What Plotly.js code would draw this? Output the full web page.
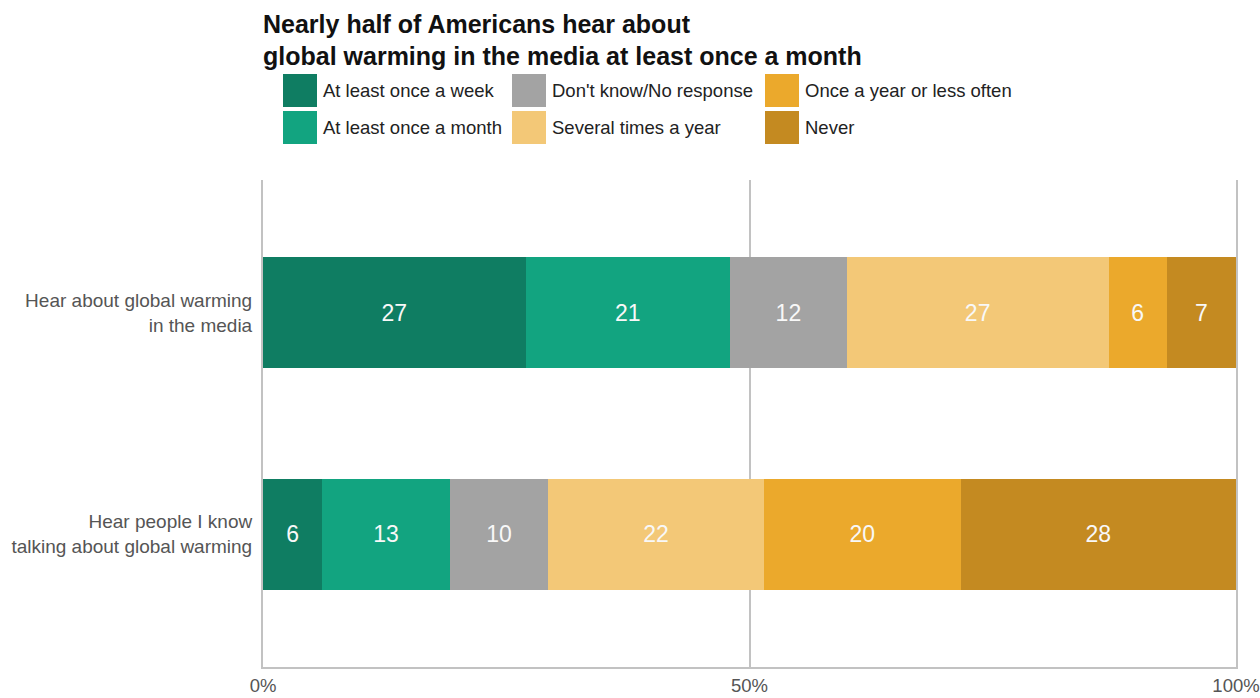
<!DOCTYPE html>
<html>
<head>
<meta charset="utf-8">
<script src="https://cdn.plot.ly/plotly-3.0.1.min.js"></script>
<style>html,body{margin:0;padding:0;background:#fff;}#chart{width:1260px;height:698px;}</style>
</head>
<body>
<div id="chart"></div>
<script>
// Categories (top to bottom)
const categories = [
  "Hear about global warming<br>in the media",
  "Hear people I know<br>talking about global warming"
];
// Response series, in stacking order (left to right)
const seriesNames = [
  "At least once a week",
  "At least once a month",
  "Don't know/No response",
  "Several times a year",
  "Once a year or less often",
  "Never"
];
const seriesColors = ["#0f7d62", "#12a480", "#a3a3a3", "#f3c877", "#eba92c", "#c48a21"];
// Percent values per series: [media, people I know]
const weekly   = [27.0, 6.1];
const monthly  = [21.0, 13.1];
const dontKnow = [12.0, 10.1];
const several  = [26.9, 22.2];
const yearly   = [6.0, 20.2];
const never    = [7.1, 28.3];
const seriesValues = [weekly, monthly, dontKnow, several, yearly, never];
// Axis ticks
const tickVals = [0, 50, 100];
const tickText = ["0%", "50%", "100%"];

const font = "Liberation Sans, Arial, sans-serif";
const gridCol = "#c2c2c2";

const traces = seriesNames.map((name, i) => ({
  type: "bar",
  orientation: "h",
  name: name,
  y: categories,
  x: seriesValues[i],
  width: 0.5,
  marker: {color: seriesColors[i], line: {width: 0}},
  text: seriesValues[i].map(v => String(Math.round(v))),
  textposition: "inside",
  insidetextanchor: "middle",
  textangle: 0,
  constraintext: "none",
  textfont: {family: font, size: 23, color: "#f8f8f8"},
  hoverinfo: "skip",
  showlegend: false
}));

// Manual legend (3 columns x 2 rows, column-major order)
const legendCols = [283, 512, 765];
const legendRows = [74, 111];
const boxW = 34, boxH = 33;
const shapes = [];
const annotations = [];
seriesNames.forEach((name, i) => {
  const col = Math.floor(i / 2), row = i % 2;
  const x0 = legendCols[col], y0 = legendRows[row];
  shapes.push({
    type: "rect", xref: "paper", yref: "paper",
    x0: (x0 - 263) / 973, x1: (x0 + boxW - 263) / 973,
    y0: 1 + (180 - y0) / 487, y1: 1 + (180 - y0 - boxH) / 487,
    fillcolor: seriesColors[i], line: {width: 0}
  });
  annotations.push({
    xref: "paper", yref: "paper",
    x: (x0 + boxW + 4 - 263) / 973, y: 1 + (180 - y0 - boxH / 2) / 487,
    xanchor: "left", yanchor: "middle", showarrow: false,
    text: name, font: {family: font, size: 18.5, color: "#222222"}
  });
});

const layout = {
  width: 1260, height: 698,
  margin: {l: 263, r: 24, t: 180, b: 31},
  paper_bgcolor: "#ffffff", plot_bgcolor: "#ffffff",
  barmode: "stack",
  title: {
    text: "<b>Nearly half of Americans hear about<br>global warming in the media at least once a month</b>",
    font: {family: font, size: 25, color: "#111111"},
    x: 263 / 1260, xanchor: "left", xref: "container",
    y: 0.953, yanchor: "top", yref: "container"
  },
  xaxis: {
    range: [0, 100], fixedrange: true,
    tickvals: tickVals, ticktext: tickText,
    showgrid: true, gridcolor: gridCol, gridwidth: 2,
    zeroline: false, showline: true, linecolor: gridCol, linewidth: 2,
    ticks: "", ticklabelstandoff: 1, ticklabeloverflow: "allow",
    tickfont: {family: font, size: 18.5, color: "#555555"}
  },
  yaxis: {
    type: "category", categoryorder: "array", categoryarray: categories,
    range: [1.6, -0.6], fixedrange: true,
    showgrid: false, zeroline: false,
    showline: true, mirror: true, linecolor: gridCol, linewidth: 2,
    ticks: "", ticklabelstandoff: 5,
    tickfont: {family: font, size: 19, color: "#555555"}
  },
  shapes: shapes,
  annotations: annotations,
  showlegend: false
};

Plotly.newPlot("chart", traces, layout, {displayModeBar: false, staticPlot: true});
</script>
</body>
</html>
